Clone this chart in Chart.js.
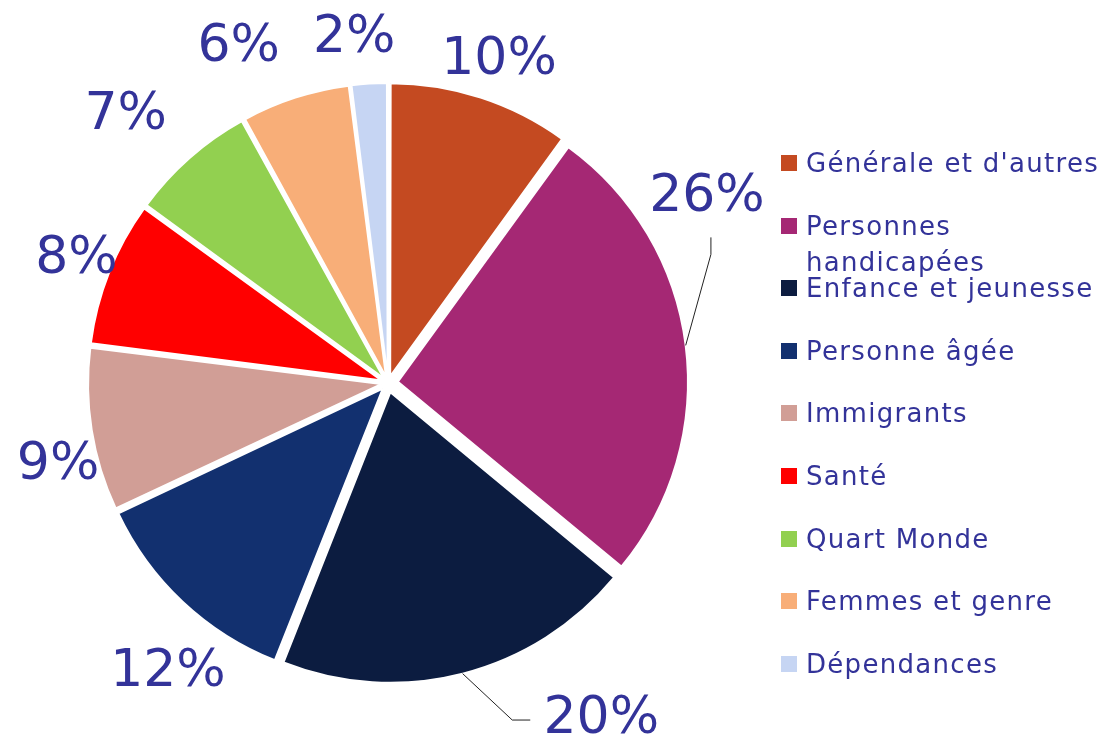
<!DOCTYPE html>
<html>
<head>
<meta charset="utf-8">
<script src="https://cdn.jsdelivr.net/npm/chart.js@4/dist/chart.umd.min.js"></script>
<style>
  html, body { margin: 0; padding: 0; background: #fff; }
  #wrap { position: relative; width: 1111px; height: 743px; }
  #pie { position: absolute; left: 0; top: 0; }
  #legend { position: absolute; left: 0; top: 0; width: 1111px; font-family: 'DejaVu Sans', Verdana, sans-serif; font-size: 26px; letter-spacing: 1.3px; color: #333399; }
  .item { position: absolute; left: 781px; display: flex; align-items: flex-start; white-space: nowrap; }
  .box { width: 16px; height: 16px; margin-top: 7px; margin-right: 9px; flex: none; }
  .txt { line-height: 36px; margin-top: -3px; }
</style>
</head>
<body>
<div id="wrap">
  <canvas id="pie" width="1111" height="743"></canvas>
  <div id="legend"></div>
</div>
<script>
// Catégories et parts (%)
const categories = [
    'Générale et d\'autres',
    'Personnes handicapées',
    'Enfance et jeunesse',
    'Personne âgée',
    'Immigrants',
    'Santé',
    'Quart Monde',
    'Femmes et genre',
    'Dépendances'
];
const shares = [10, 26, 20, 12, 9, 8, 7, 6, 2];

const colors = ['#c44a21', '#a52874', '#0c1c40', '#12306f', '#d19e96', '#ff0000', '#92d050', '#f8ae78', '#c6d5f3'];

// Décalage des étiquettes (angle en degrés, distance au centre en px)
const labelShift = [1, -23, -18, -6, -5, 0, -3, -6, -2];
const labelDist = [341, 369, 398, 364, 340, 335, 375, 367, 346];

const textColor = '#333399';
const explode = 10; // écart réel voulu entre les parts, en px

// Chart.js divise l'offset par 4 et l'augmente pour les petites parts :
// on compense pour obtenir un écart identique partout
function arcOffset(ctx) {
    const total = shares.reduce((a, b) => a + b, 0);
    const circ = shares[ctx.dataIndex] / total * 2 * Math.PI;
    return 4 * explode / (2 - Math.sin(Math.min(Math.PI, circ)));
}

// Étiquettes % autour du camembert, avec traits de rappel pour 26% et 20%
const outerLabels = {
    id: 'outerLabels',
    afterDatasetsDraw(chart) {
        const c = chart.ctx;
        const meta = chart.getDatasetMeta(0);
        c.save();
        c.font = '52px "DejaVu Sans", Verdana, sans-serif';
        c.fillStyle = textColor;
        c.textAlign = 'center';
        c.textBaseline = 'middle';
        meta.data.forEach((arc, i) => {
            const mid = (arc.startAngle + arc.endAngle) / 2;
            const a = mid + labelShift[i] * Math.PI / 180;
            const lx = arc.x + Math.cos(a) * labelDist[i];
            const ly = arc.y + Math.sin(a) * labelDist[i];
            c.fillText(shares[i] + '%', lx, ly);

            if (i === 1 || i === 2) {
                const r = arc.outerRadius + explode;
                const sx = arc.x + Math.cos(mid) * r;
                const sy = arc.y + Math.sin(mid) * r;
                c.strokeStyle = '#222';
                c.lineWidth = 1;
                c.beginPath();
                c.moveTo(sx, sy);
                if (i === 1) {
                    c.lineTo(lx + 4, ly + 57);
                    c.lineTo(lx + 4, ly + 40);
                } else {
                    c.lineTo(lx - 89, ly + 1);
                    c.lineTo(lx - 71, ly + 1);
                }
                c.stroke();
            }
        });
        c.restore();
    }
};

new Chart(document.getElementById('pie'), {
    type: 'pie',
    data: {
        labels: categories,
        datasets: [{
            data: shares,
            backgroundColor: colors,
            borderColor: '#ffffff',
            borderWidth: 2,
            offset: arcOffset
        }]
    },
    options: {
        responsive: false,
        animation: false,
        layout: { padding: { left: 77, right: 412, top: 72, bottom: 49 } },
        plugins: {
            legend: { display: false },
            tooltip: { enabled: false }
        }
    },
    plugins: [outerLabels]
});

// Légende à droite
const legend = document.getElementById('legend');
const wrapped = { 1: 'Personnes<br>handicapées' };
categories.forEach((name, i) => {
    const item = document.createElement('div');
    item.className = 'item';
    item.style.top = (148 + i * 62.6) + 'px';
    item.innerHTML = '<div class="box" style="background:' + colors[i] + '"></div>' +
        '<div class="txt">' + (wrapped[i] || name) + '</div>';
    legend.appendChild(item);
});
</script>
</body>
</html>
